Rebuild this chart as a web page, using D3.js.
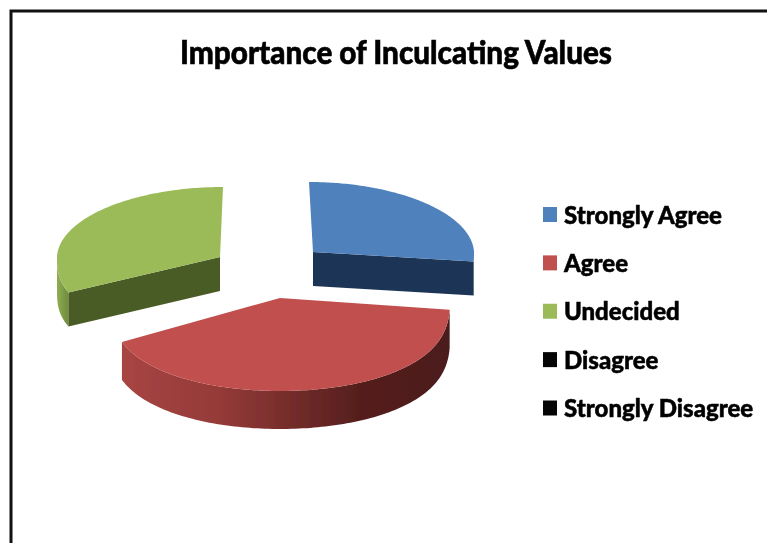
<!DOCTYPE html>
<html>
<head>
<meta charset="utf-8">
<script src="https://cdnjs.cloudflare.com/ajax/libs/d3/7.8.5/d3.min.js"></script>
<style>html,body{margin:0;padding:0;background:#fff}svg{display:block}</style>
</head>
<body>
<script>
const categories = ["Strongly Agree", "Agree", "Undecided", "Disagree", "Strongly Disagree"];
const values = [26, 43, 31, 0, 0];
const colors = ["#4f81bd", "#c0504d", "#9bbb59", "#050505", "#050505"];
const chartTitle = "Importance of Inculcating Values";

const W = 767, H = 543;
const svg = d3.select("body").append("svg").attr("width", W).attr("height", H);
const defs = svg.append("defs");

const soften = defs.append("filter").attr("id", "soft");
soften.append("feGaussianBlur").attr("stdDeviation", 0.45);

const redWall = defs.append("linearGradient").attr("id", "wall-1");
[[0, "#a84543"], [0.3, "#943a38"], [0.55, "#6f2a28"], [0.72, "#561f1e"], [1, "#4c1c1a"]]
  .forEach(([o, c]) => redWall.append("stop").attr("offset", o).attr("stop-color", c));
const greenWall = defs.append("linearGradient").attr("id", "wall-2");
[[0, "#8fae52"], [1, "#6f8b3d"]]
  .forEach(([o, c]) => greenWall.append("stop").attr("offset", o).attr("stop-color", c));

// frame
const frame = d3.path();
frame.moveTo(11, H);
frame.lineTo(11, 11);
frame.lineTo(W, 11);
svg.append("path").attr("d", frame.toString()).attr("fill", "none").attr("stroke", "#111").attr("stroke-width", 3);

// title
svg.append("text").attr("x", 396).attr("y", 64).attr("text-anchor", "middle")
  .attr("font-family", "Lato").attr("font-weight", 900).attr("font-size", 32)
  .attr("stroke", "#000").attr("stroke-width", 0.6)
  .attr("textLength", 432).attr("lengthAdjust", "spacingAndGlyphs")
  .attr("filter", "url(#soft)")
  .text(chartTitle);

// 3D pie projection (each slice is exploded to its own apex)
const pie = d3.pie().sort(null).value(d => d)(values);
const placement = [
  { ax: 313, ay: 252, rx: 161, ryFront: 75, tilt: 4, depth: 34, cut: "#1f3656", cutAt: "end" },
  { ax: 280, ay: 298, rx: 170, ryFront: 93, tilt: 0, depth: 38, cut: null, cutAt: null },
  { ax: 220, ay: 257, rx: 163, ryFront: 75, tilt: -3, depth: 34, cut: "#4a5c25", cutAt: "start" }
];
const ryBack = 70, frontBulge = 0.75;

function project(p, a) {
  const ux = Math.sin(a), uy = -Math.cos(a);
  if (uy < 0) return [p.ax + p.rx * ux + p.tilt * uy, p.ay + uy * ryBack];
  return [p.ax + p.rx * ux, p.ay + Math.pow(uy, frontBulge) * p.ryFront];
}
const line = d3.line();

[2, 0, 1].forEach(i => {
  const s = pie[i], p = placement[i];
  const n = 120;
  const angles = d3.range(n + 1).map(k => s.startAngle + (s.endAngle - s.startAngle) * k / n);
  const rim = angles.map(a => project(p, a));
  const apex = [p.ax, p.ay];
  const g = svg.append("g").attr("filter", "url(#soft)");

  // outer wall: front-facing part of the rim
  const front = angles.filter(a => Math.cos(a) < 0).map(a => project(p, a));
  if (front.length > 1 && i !== 0) {
    const wall = front.concat(front.slice().reverse().map(q => [q[0], q[1] + p.depth]));
    g.append("path").attr("d", line(wall) + "Z").attr("fill", `url(#wall-${i})`);
  }
  // cut face
  if (p.cut) {
    const corner = p.cutAt === "end" ? rim[n] : rim[0];
    const face = [apex, corner, [corner[0], corner[1] + p.depth], [apex[0], apex[1] + p.depth]];
    g.append("path").attr("d", line(face) + "Z").attr("fill", p.cut);
  }
  // top face
  g.append("path").attr("d", line([apex].concat(rim)) + "Z").attr("fill", colors[i]);
});

// legend
const legendY = d3.scalePoint().domain(categories).range([214.5, 408]);
const legend = svg.append("g").selectAll("g").data(categories).join("g")
  .attr("transform", d => `translate(0,${legendY(d)})`);
legend.append("rect").attr("x", 543).attr("y", -7.5).attr("width", 14).attr("height", 15)
  .attr("fill", (d, i) => colors[i]);
legend.append("text").attr("x", 564).attr("y", 9)
  .attr("font-family", "Lato").attr("font-weight", 900).attr("font-size", 24)
  .attr("stroke", "#000").attr("stroke-width", 0.5)
  .attr("filter", "url(#soft)")
  .text(d => d);
</script>
</body>
</html>
